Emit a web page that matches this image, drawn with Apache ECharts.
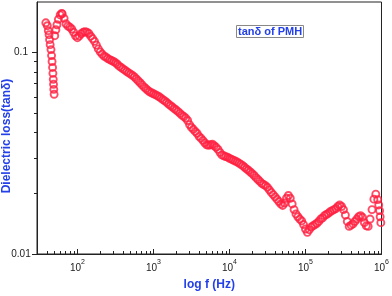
<!DOCTYPE html>
<html>
<head>
<meta charset="utf-8">
<script src="https://cdn.jsdelivr.net/npm/echarts@6/dist/echarts.min.js"></script>
<style>
html,body{margin:0;padding:0;background:#fff;}
#c{width:392px;height:296px;}
</style>
</head>
<body>
<div id="c"></div>
<script>
// ---- data ----
var freq = [
  38.4,40.2,41.4,42.4,43.0,43.8,44.9,45.7,46.4,47.1,47.6,48.1,48.5,48.9,49.4,
  50.3,52.1,53.8,56.2,59.3,62.0,
  63.10,66.83,70.79,74.99,79.43,84.14,89.13,94.41,
  100,105.9,112.2,118.9,125.9,133.4,141.3,149.6,158.5,167.9,177.8,188.4,199.5,211.3,223.9,237.1,251.2,266.1,281.8,298.5,
  316.2,335.0,354.8,375.8,398.1,421.7,446.7,473.2,501.2,530.9,562.3,595.7,631.0,668.3,707.9,749.9,794.3,841.4,891.3,944.1,
  1000,1059,1122,1189,1259,1334,1413,1496,1585,1679,1778,1884,1995,2113,2239,2371,2512,2661,2818,2985,
  3162,3350,3548,3758,3981,4217,4467,4732,5012,5309,5623,5957,6310,6683,7079,7499,7943,8414,8913,9441,
  10000,10590,11220,11890,12590,13340,14130,14960,15850,16790,17780,18840,19950,21130,22390,23710,25120,26610,28180,29850,
  31620,33500,35480,37580,39810,42170,44670,47320,50120,53090,56230,59570,63100,66830,70790,74990,79430,84140,89130,94410,
  100000,105900,112200,118900,125900,133400,141300,149600,158500,167900,177800,188400,199500,211300,223900,237100,251200,266100,281800,298500,
  316200,335000,354800,375800,398100,421700,446700,473200,501200,530900,562300,595700,631000,668300,707900,749900,794300,841400,891300,
  920000,944100,960000,980000
];
var tanDelta = [
  0.1400,0.1354,0.1279,0.1222,0.1155,0.1091,0.1031,0.0963,0.0900,0.0841,0.0786,0.0734,0.0694,0.0655,0.0619,
  0.1208,0.1293,0.1369,0.1457,0.1532,0.1559,
  0.1550,0.1473,0.1384,0.1350,0.1333,0.1304,0.1257,0.1206,
  0.1181,0.1205,0.1236,0.1256,0.1264,0.1258,0.1239,0.1201,0.1168,0.1133,0.1085,0.1039,0.1005,0.0980,0.0958,0.0947,0.0931,0.0919,0.0910,0.0900,
  0.0888,0.0872,0.0853,0.0841,0.0827,0.0815,0.0802,0.0790,0.0779,0.0768,0.0755,0.0738,0.0722,0.0706,0.0690,0.0674,0.0661,0.0648,0.0637,0.0630,
  0.0623,0.0616,0.0609,0.0602,0.0592,0.0582,0.0574,0.0564,0.0553,0.0544,0.0535,0.0525,0.0517,0.0508,0.0498,0.0488,0.0480,0.0472,0.0459,0.0438,
  0.0424,0.0415,0.0405,0.0396,0.0383,0.0375,0.0366,0.0356,0.0348,0.0346,0.0348,0.0350,0.0344,0.0338,0.0330,0.0319,0.0310,0.0307,0.0304,0.0302,
  0.0298,0.0295,0.0292,0.0289,0.0286,0.0282,0.0278,0.0274,0.0269,0.0264,0.0260,0.0255,0.0250,0.0245,0.0239,0.0234,0.0229,0.0224,0.0221,0.0218,
  0.0214,0.0208,0.0202,0.0197,0.0192,0.0187,0.0182,0.0177,0.0174,0.0179,0.0189,0.0195,0.0189,0.0177,0.0166,0.0158,0.0153,0.0149,0.0146,0.0140,
  0.0133,0.0128,0.0132,0.0136,0.0138,0.0140,0.0142,0.0145,0.0149,0.0151,0.0155,0.0157,0.0159,0.0162,0.0164,0.0166,0.0168,0.0172,0.0175,0.0172,
  0.0166,0.0156,0.0145,0.0137,0.0139,0.0141,0.0145,0.0149,0.0153,0.0155,0.0152,0.0143,0.0138,0.0137,0.0149,0.0166,0.0187,0.0198,0.0186,
  0.0175,0.0164,0.0153,0.0143
];
var xMajorTicks = [100, 1000, 10000, 100000, 1000000];
var xTickBase = ['10', '10', '10', '10', '10'];
var xTickExp = ['2', '3', '4', '5', '6'];
var xMinorTicks = [30,40,50,60,70,80,90,200,300,400,500,600,700,800,900,
  2000,3000,4000,5000,6000,7000,8000,9000,20000,30000,40000,50000,60000,70000,80000,90000,
  200000,300000,400000,500000,600000,700000,800000,900000];
var yMajorTicks = [0.01, 0.1];
var yTickLabels = ['0.01', '0.1'];
var yMinorTicks = [0.02,0.03,0.04,0.05,0.06,0.07,0.08,0.09];
var xTitle = 'log f (Hz)';
var yTitle = 'Dielectric loss(tanδ)';
var legendText = 'tanδ of PMH';

// ---- chart ----
var BLUE = '#2440e8';
var RED = '#ff1f40';
var AX = '#222';
var XMIN = 29.4, XMAX = 1000000, YMIN = 0.01, YMAX = 0.1775;
function idxOf(arr, v) {
  for (var i = 0; i < arr.length; i++) {
    if (Math.abs(Math.log10(v) - Math.log10(arr[i])) < 1e-6) return i;
  }
  return -1;
}
var chart = echarts.init(document.getElementById('c'), null, {renderer: 'canvas'});
var pts = freq.map(function (f, i) { return [f, tanDelta[i]]; });
var option = {
  animation: false,
  backgroundColor: '#fff',
  title: {
    text: legendText,
    left: 236, top: 25,
    padding: [1, 2, 1, 2],
    borderColor: '#888', borderWidth: 1,
    textStyle: {fontFamily: 'Liberation Sans, Arial', fontSize: 11, fontWeight: 'bold', color: BLUE}
  },
  grid: {left: 37, right: 6, top: 2, bottom: 40, show: true, borderColor: AX, borderWidth: 1, backgroundColor: 'transparent'},
  xAxis: [{
    type: 'log', logBase: 10, min: XMIN, max: XMAX, position: 'bottom',
    name: xTitle, nameLocation: 'middle', nameGap: 25,
    nameTextStyle: {fontFamily: 'Liberation Sans, Arial', fontSize: 12, fontWeight: 'bold', color: BLUE},
    axisLine: {show: true, lineStyle: {color: AX, width: 1}},
    axisTick: {show: true, inside: true, length: 5, customValues: xMajorTicks, lineStyle: {color: AX}},
    axisLabel: {
      customValues: xMajorTicks, margin: 5, color: AX,
      formatter: function (v) { var i = idxOf(xMajorTicks, v); return i < 0 ? '' : '{b|' + xTickBase[i] + '}{s|' + xTickExp[i] + '}'; },
      rich: {
        b: {fontFamily: 'Liberation Sans, Arial', fontSize: 10, color: AX, lineHeight: 14, verticalAlign: 'bottom'},
        s: {fontFamily: 'Liberation Sans, Arial', fontSize: 7, color: AX, lineHeight: 14, verticalAlign: 'top'}
      }
    },
    splitLine: {show: false}, minorTick: {show: false}
  }, {
    type: 'log', logBase: 10, min: XMIN, max: XMAX, position: 'bottom', gridIndex: 0,
    axisLine: {show: false},
    axisTick: {show: true, inside: true, length: 3, customValues: xMinorTicks, lineStyle: {color: AX}},
    axisLabel: {show: false},
    splitLine: {show: false}
  }],
  yAxis: [{
    type: 'log', logBase: 10, min: YMIN, max: YMAX, position: 'left',
    axisLine: {show: true, lineStyle: {color: AX, width: 1}},
    axisTick: {show: true, inside: false, length: 5, customValues: yMajorTicks, lineStyle: {color: AX}},
    axisLabel: {
      customValues: yMajorTicks, margin: 16, align: 'center', color: AX,
      fontFamily: 'Liberation Sans, Arial', fontSize: 10,
      formatter: function (v) { var i = idxOf(yMajorTicks, v); return i < 0 ? '' : yTickLabels[i]; }
    },
    splitLine: {show: false}
  }, {
    type: 'log', logBase: 10, min: YMIN, max: YMAX, position: 'left', gridIndex: 0,
    axisLine: {show: false},
    axisTick: {show: true, inside: false, length: 3, customValues: yMinorTicks, lineStyle: {color: AX}},
    axisLabel: {show: false},
    splitLine: {show: false}
  }],
  graphic: [{
    type: 'text',
    x: 7, y: 136,
    rotation: Math.PI / 2,
    style: {text: yTitle, fill: BLUE, font: 'bold 12px "Liberation Sans", Arial', textAlign: 'center', textVerticalAlign: 'middle'}
  }],
  series: [{
    type: 'scatter', xAxisIndex: 0, yAxisIndex: 0,
    data: pts, symbol: 'circle', symbolSize: 7, clip: false,
    itemStyle: {color: 'rgba(255,255,255,0)', borderColor: RED, borderWidth: 1.9},
    emphasis: {disabled: true}
  }]
};
chart.setOption(option);
</script>
</body>
</html>
